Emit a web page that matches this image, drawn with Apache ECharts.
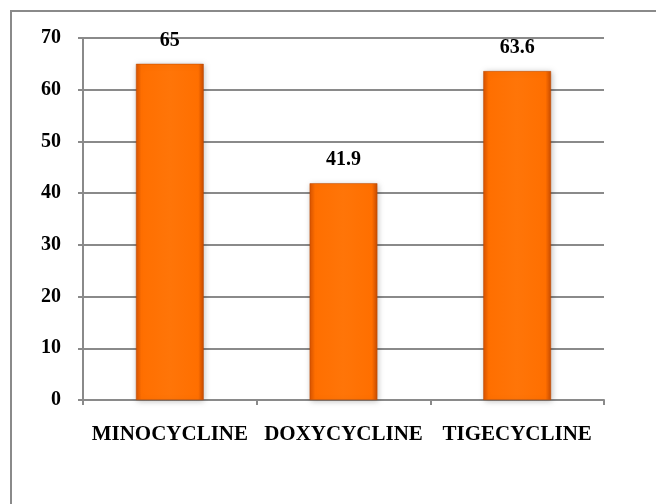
<!DOCTYPE html>
<html>
<head>
<meta charset="utf-8">
<style>
  html, body { margin: 0; padding: 0; background: #fff; }
  #chart { width: 656px; height: 504px; }
</style>
<script src="https://cdn.jsdelivr.net/npm/echarts@6/dist/echarts.min.js"></script>
</head>
<body>
<div id="chart"></div>
<script>
// Tetracycline-class antibiotics and their values
const drugs = ['MINOCYCLINE', 'DOXYCYCLINE', 'TIGECYCLINE'];
const values = [65, 41.9, 63.6];
const yTicks = [0, 10, 20, 30, 40, 50, 60, 70];

const chart = echarts.init(document.getElementById('chart'), null, { renderer: 'canvas' });
const serif = '"Liberation Serif", "Times New Roman", serif';

// Orange bar with darker edges, giving a bevelled look
const barFill = new echarts.graphic.LinearGradient(0, 0, 1, 0, [
  { offset: 0, color: '#D95400' },
  { offset: 0.08, color: '#FF6F00' },
  { offset: 0.5, color: '#FF7508' },
  { offset: 0.92, color: '#FF6F00' },
  { offset: 1, color: '#C94C00' }
]);

chart.setOption({
  animation: false,
  graphic: [{
    type: 'rect',
    shape: { x: 11, y: 11, width: 700, height: 600 },
    style: { fill: 'none', stroke: '#8a8a8a', lineWidth: 2 },
    z: 0
  }],
  grid: { left: 83, right: 52, top: 38, bottom: 104, containLabel: false },
  xAxis: {
    type: 'category',
    data: drugs,
    axisLine: { lineStyle: { color: '#8a8a8a', width: 2 } },
    axisTick: { show: true, length: 5, lineStyle: { color: '#8a8a8a', width: 2 } },
    axisLabel: {
      color: '#000', fontFamily: serif, fontWeight: 'bold', fontSize: 21, margin: 24,
      interval: 0
    }
  },
  yAxis: {
    type: 'value',
    min: yTicks[0],
    max: yTicks[yTicks.length - 1],
    interval: 10,
    axisLine: { show: true, lineStyle: { color: '#8a8a8a', width: 2 } },
    axisTick: { show: true, length: 5, lineStyle: { color: '#8a8a8a', width: 2 } },
    splitLine: { lineStyle: { color: '#8a8a8a', width: 2 } },
    axisLabel: {
      color: '#000', fontFamily: serif, fontWeight: 'bold', fontSize: 20, margin: 22
    }
  },
  series: [{
    type: 'bar',
    data: values,
    barWidth: '39%',
    itemStyle: {
      color: barFill,
      borderColor: '#B84800',
      borderWidth: 0.5,
      shadowColor: 'rgba(0,0,0,0.25)',
      shadowBlur: 6,
      shadowOffsetX: 1,
      shadowOffsetY: 1
    },
    label: {
      show: true,
      position: 'top',
      distance: 13,
      color: '#000',
      fontFamily: serif,
      fontWeight: 'bold',
      fontSize: 20
    }
  }]
});
</script>
</body>
</html>
